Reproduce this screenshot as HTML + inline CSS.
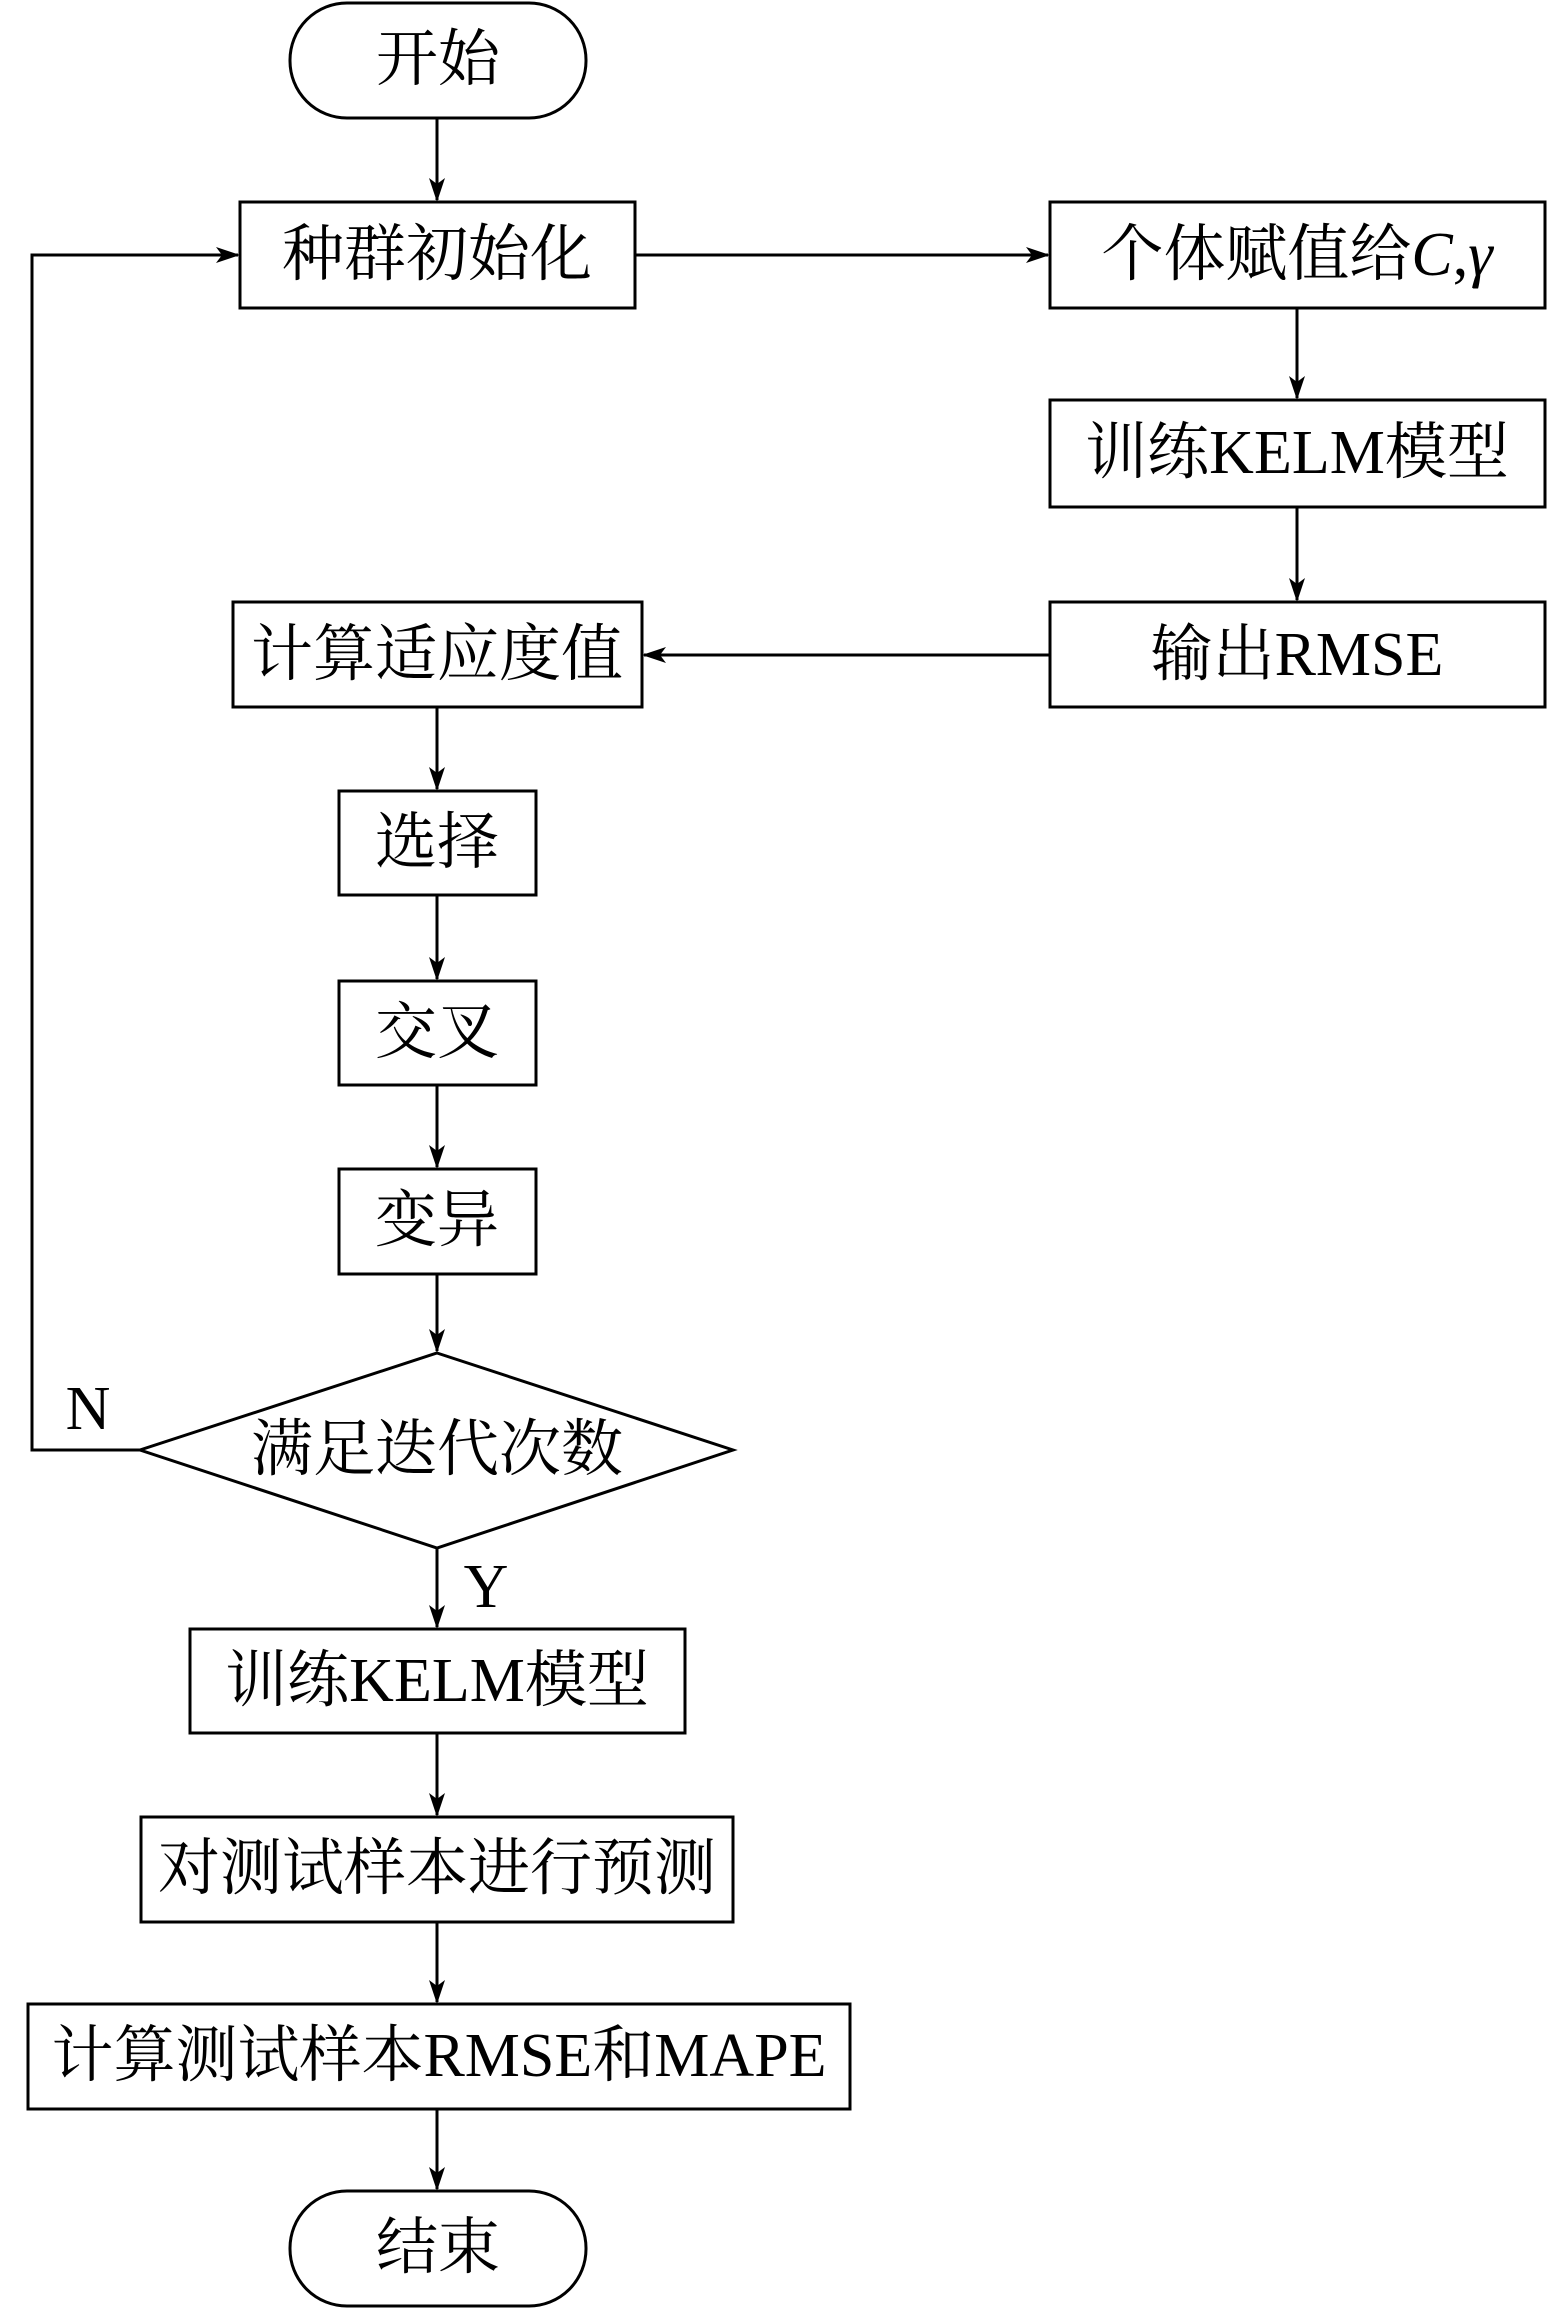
<!DOCTYPE html>
<html><head><meta charset="utf-8"><style>
html,body{margin:0;padding:0;background:#fff}
svg text{font-family:"Liberation Serif","Noto Serif CJK SC",serif;font-size:62px;fill:#000;text-anchor:middle;dominant-baseline:central}
</style></head><body>
<svg width="1549" height="2310" viewBox="0 0 1549 2310" xmlns="http://www.w3.org/2000/svg">
<defs><marker id="a" markerWidth="24" markerHeight="16" refX="22" refY="8" orient="auto" markerUnits="userSpaceOnUse"><path d="M0,0 L24,8 L0,16 L6,8 Z" fill="#000"/></marker></defs>
<g fill="none" stroke="#000" stroke-width="3">
<rect x="290" y="3" width="296" height="115" rx="57"/>
<rect x="240" y="202" width="395" height="106"/>
<rect x="1050" y="202" width="495" height="106"/>
<rect x="1050" y="400" width="495" height="107"/>
<rect x="1050" y="602" width="495" height="105"/>
<rect x="233" y="602" width="409" height="105"/>
<rect x="339" y="791" width="197" height="104"/>
<rect x="339" y="981" width="197" height="104"/>
<rect x="339" y="1169" width="197" height="105"/>
<polygon points="437,1353 733,1450 437,1548 140,1450"/>
<rect x="190" y="1629" width="495" height="104"/>
<rect x="141" y="1817" width="592" height="105"/>
<rect x="28" y="2004" width="822" height="105"/>
<rect x="290" y="2191" width="296" height="115" rx="57"/>
<line x1="437" y1="118" x2="437" y2="200" marker-end="url(#a)"/>
<line x1="635" y1="255" x2="1048" y2="255" marker-end="url(#a)"/>
<line x1="1297" y1="308" x2="1297" y2="398" marker-end="url(#a)"/>
<line x1="1297" y1="507" x2="1297" y2="600" marker-end="url(#a)"/>
<line x1="1050" y1="655" x2="644" y2="655" marker-end="url(#a)"/>
<line x1="437" y1="707" x2="437" y2="789" marker-end="url(#a)"/>
<line x1="437" y1="895" x2="437" y2="979" marker-end="url(#a)"/>
<line x1="437" y1="1085" x2="437" y2="1167" marker-end="url(#a)"/>
<line x1="437" y1="1274" x2="437" y2="1351" marker-end="url(#a)"/>
<polyline points="140,1450 32,1450 32,255 238,255" marker-end="url(#a)"/>
<line x1="437" y1="1548" x2="437" y2="1627" marker-end="url(#a)"/>
<line x1="437" y1="1733" x2="437" y2="1815" marker-end="url(#a)"/>
<line x1="437" y1="1922" x2="437" y2="2002" marker-end="url(#a)"/>
<line x1="437" y1="2109" x2="437" y2="2189" marker-end="url(#a)"/>
</g>
<text x="438" y="60">开始</text>
<text x="437" y="255">种群初始化</text>
<text x="1297" y="255">个体赋值给<tspan font-style="italic">C</tspan>,<tspan font-style="italic">γ</tspan></text>
<text x="1297" y="453">训练KELM模型</text>
<text x="1297" y="655">输出RMSE</text>
<text x="437" y="655">计算适应度值</text>
<text x="437" y="843">选择</text>
<text x="437" y="1033">交叉</text>
<text x="437" y="1221">变异</text>
<text x="437" y="1450">满足迭代次数</text>
<text x="88" y="1409">N</text>
<text x="486" y="1587">Y</text>
<text x="437" y="1681">训练KELM模型</text>
<text x="437" y="1869">对测试样本进行预测</text>
<text x="439" y="2056">计算测试样本RMSE和MAPE</text>
<text x="438" y="2248">结束</text>
</svg>
</body></html>
